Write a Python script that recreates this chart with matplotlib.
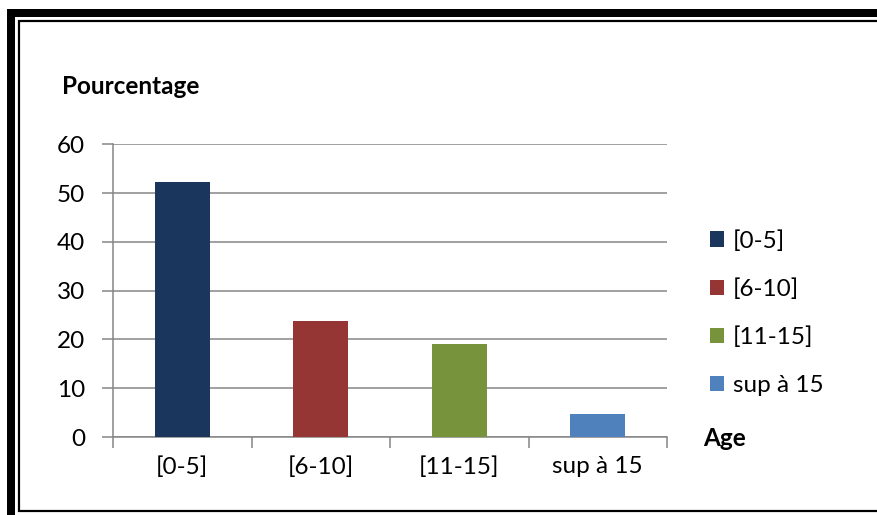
import matplotlib
matplotlib.use("Agg")
import matplotlib.pyplot as plt
from matplotlib.lines import Line2D
from matplotlib.patches import Patch

age_groups = ["[0-5]", "[6-10]", "[11-15]", "sup à 15"]
percentages = [52.3, 23.8, 19.0, 4.8]
bar_colors = ["#1b365d", "#963634", "#77933c", "#4f81bd"]
y_ticks = [0, 10, 20, 30, 40, 50, 60]

W, H = 877, 515
FS = 17.5
plt.rcParams["font.family"] = ["Lato", "DejaVu Sans"]
grid_gray = "#868686"

fig = plt.figure(figsize=(W / 100, H / 100), dpi=100)


def fx(x):
    return x / W


def fy(y):
    return 1 - y / H


ax = fig.add_axes([fx(113), fy(437), fx(667) - fx(113), fy(144.3) - fy(437)])
xs = list(range(len(age_groups)))
ax.bar(xs, percentages, width=0.4, color=bar_colors, label=age_groups, zorder=3)

ax.set_xlim(-0.5, len(age_groups) - 0.5)
ax.set_ylim(0, 60)
ax.set_yticks(y_ticks)
ax.yaxis.grid(True, color=grid_gray, lw=1.1)
ax.set_axisbelow(True)
ax.set_xticks(xs)
ax.set_xticklabels(age_groups)
ax.set_xticks([x - 0.5 for x in range(len(age_groups) + 1)], minor=True)
ax.tick_params(axis="x", which="major", length=0, pad=14, labelsize=FS)
ax.tick_params(axis="x", which="minor", length=8, width=1.1, color=grid_gray, direction="out")
ax.tick_params(axis="y", length=8, width=1.1, color=grid_gray, pad=12, labelsize=FS)
for side in ("top", "right"):
    ax.spines[side].set_visible(False)
for side in ("left", "bottom"):
    ax.spines[side].set_color(grid_gray)
    ax.spines[side].set_linewidth(1.1)

fig.text(fx(62), fy(87), "Pourcentage", fontsize=FS, fontweight="bold", va="center", ha="left")
fig.text(fx(703), fy(438), "Age", fontsize=FS, fontweight="bold", va="center", ha="left")

handles = [Patch(facecolor=c, edgecolor="none") for c in bar_colors]
fig.legend(handles, age_groups, loc="center left", bbox_to_anchor=(fx(710), fy(313)),
           frameon=False, fontsize=FS, handlelength=0.58, handleheight=0.58,
           handletextpad=0.37, labelspacing=1.1, borderpad=0, borderaxespad=0)

# double page frame: heavy outer rule on top and left, thin inner rule
lw_thick = 8 * 0.72
lw_thin = 2.2 * 0.72
fig.add_artist(Line2D([fx(7), fx(W)], [fy(13), fy(13)], color="black", lw=lw_thick, solid_capstyle="butt"))
fig.add_artist(Line2D([fx(11), fx(11)], [fy(9), fy(515)], color="black", lw=lw_thick, solid_capstyle="butt"))
fig.add_artist(Line2D([fx(18), fx(W)], [fy(20.5), fy(20.5)], color="black", lw=lw_thin, solid_capstyle="butt"))
fig.add_artist(Line2D([fx(19), fx(19)], [fy(19.5), fy(511.5)], color="black", lw=lw_thin, solid_capstyle="butt"))
fig.add_artist(Line2D([fx(18), fx(W)], [fy(510.5), fy(510.5)], color="black", lw=lw_thin, solid_capstyle="butt"))

fig.savefig("out.png", dpi=100)
plt.close(fig)
